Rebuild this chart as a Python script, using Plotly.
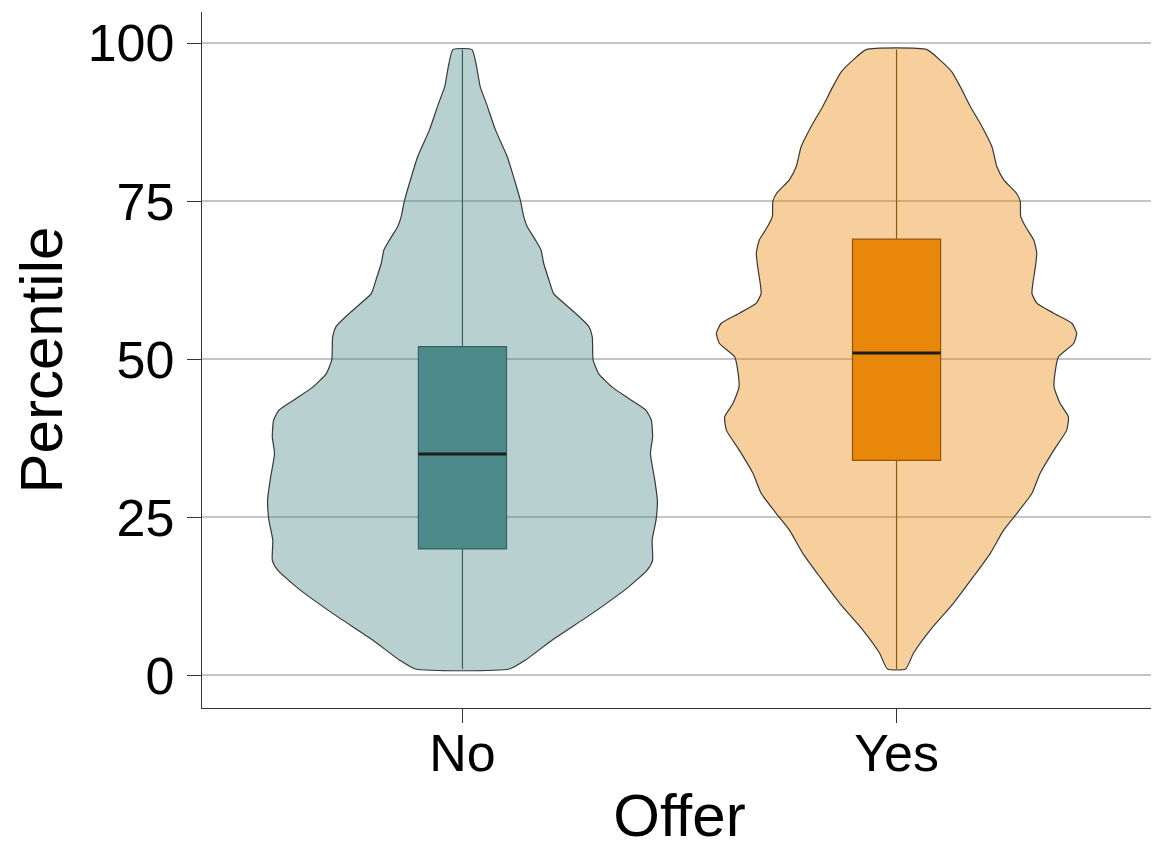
import plotly.graph_objects as go

# ---------------- data ----------------
categories = ["No", "Yes"]

# violin outline: percentile levels and half-widths (in category units)
no_levels = [1.0, 2.4, 5.6, 9.8, 14.0, 16.7, 18.2, 21.4, 24.6, 27.7, 30.9, 35.1, 37.7,
             40.4, 42.0, 43.8, 45.6, 47.7, 49.9, 53.6, 55.2, 57.3, 59.1, 60.4, 62.6,
             65.2, 67.3, 68.9, 71.0, 72.6, 75.0, 77.9, 82.1, 86.3, 90.5, 93.1, 96.5, 99.0]
no_halfwidth = [0.108, 0.145, 0.207, 0.299, 0.383, 0.426, 0.438, 0.437, 0.446, 0.449,
                0.443, 0.433, 0.438, 0.435, 0.422, 0.383, 0.345, 0.314, 0.301, 0.299,
                0.291, 0.260, 0.230, 0.210, 0.199, 0.187, 0.181, 0.168, 0.149, 0.141,
                0.134, 0.122, 0.103, 0.076, 0.055, 0.041, 0.032, 0.022]

yes_levels = [1.0, 3.5, 7.2, 11.4, 15.6, 19.3, 23.0, 25.6, 28.8, 32.0, 35.6, 38.8, 40.9,
              43.0, 45.6, 48.3, 50.4, 52.5, 54.1, 55.7, 57.3, 58.9, 60.4, 62.0, 64.7,
              66.8, 68.9, 71.0, 72.6, 75.0, 76.2, 78.4, 80.5, 83.6, 86.8, 90.0, 93.1,
              95.5, 97.3, 99.0]
yes_halfwidth = [0.021, 0.039, 0.078, 0.131, 0.177, 0.216, 0.247, 0.277, 0.312, 0.331,
                 0.362, 0.392, 0.396, 0.377, 0.363, 0.366, 0.373, 0.408, 0.415, 0.404,
                 0.362, 0.323, 0.312, 0.314, 0.320, 0.323, 0.316, 0.297, 0.286, 0.285,
                 0.277, 0.247, 0.231, 0.220, 0.197, 0.170, 0.147, 0.127, 0.101, 0.070]

# box statistics
box_min = [1, 1]
box_q1 = [20, 34]
box_median = [35, 51]
box_q3 = [52, 69]
box_max = [99, 99]

y_ticks = [0, 25, 50, 75, 100]

# ---------------- styles ----------------
violin_fill = ["rgba(78,138,138,0.4)", "rgba(232,135,10,0.4)"]
box_fill = ["#4E8A8A", "#E8870A"]
box_line = ["#23484A", "#5C3410"]
outline = "#383838"
BOX_W = 0.203
FONT = "Liberation Sans, Arial, Helvetica, sans-serif"

fig = go.Figure()

violins = [(no_levels, no_halfwidth), (yes_levels, yes_halfwidth)]
for i, (lv, hw) in enumerate(violins):
    xs = [i - w for w in hw] + [i + w for w in reversed(hw)] + [i - hw[0]]
    ys = list(lv) + list(reversed(lv)) + [lv[0]]
    fig.add_trace(go.Scatter(
        x=xs, y=ys, mode="lines", fill="toself",
        fillcolor=violin_fill[i],
        line=dict(color=outline, width=1.2, shape="spline", smoothing=0.5),
        hoverinfo="skip", showlegend=False))

for i in range(len(categories)):
    fig.add_trace(go.Box(
        x=[i], q1=[box_q1[i]], median=[box_median[i]], q3=[box_q3[i]],
        lowerfence=[box_min[i]], upperfence=[box_max[i]],
        width=BOX_W, whiskerwidth=0, fillcolor=box_fill[i],
        line=dict(color=box_line[i], width=1.2),
        boxpoints=False, hoverinfo="skip", showlegend=False))
    fig.add_trace(go.Scatter(
        x=[i - BOX_W / 2, i + BOX_W / 2], y=[box_median[i], box_median[i]],
        mode="lines", line=dict(color="#1E1E1E", width=3),
        hoverinfo="skip", showlegend=False))

# the page body has an 8px margin, so the figure is sized to fit the window
fig.update_layout(
    width=1151, height=841,
    margin=dict(l=194, r=2, t=4, b=141),
    plot_bgcolor="white", paper_bgcolor="white",
    font=dict(family=FONT, color="black"),
    showlegend=False,
)
fig.update_xaxes(
    range=[-0.6, 1.6], tickmode="array", tickvals=[0, 1], ticktext=categories,
    showgrid=False, zeroline=False, automargin=False,
    showline=True, linecolor="#333333", linewidth=1.3,
    ticks="outside", ticklen=14, tickcolor="#333333", tickwidth=1.3,
    tickfont=dict(size=52, family=FONT, color="black"),
    ticklabelstandoff=-15,
    title=dict(text="Offer", font=dict(size=60, family=FONT, color="black"), standoff=18),
)
fig.update_yaxes(
    range=[-5.17, 104.95], tickmode="array", tickvals=y_ticks,
    showgrid=True, gridcolor="#C4C4C4", gridwidth=1.5, zeroline=False, automargin=False,
    showline=True, linecolor="#333333", linewidth=1.3,
    ticks="outside", ticklen=14, tickcolor="#333333", tickwidth=1.3,
    tickfont=dict(size=52, family=FONT, color="black"),
    ticklabelstandoff=2,
    title=dict(text="Percentile", font=dict(size=60, family=FONT, color="black"), standoff=7),
)

fig.write_html("out.html")
